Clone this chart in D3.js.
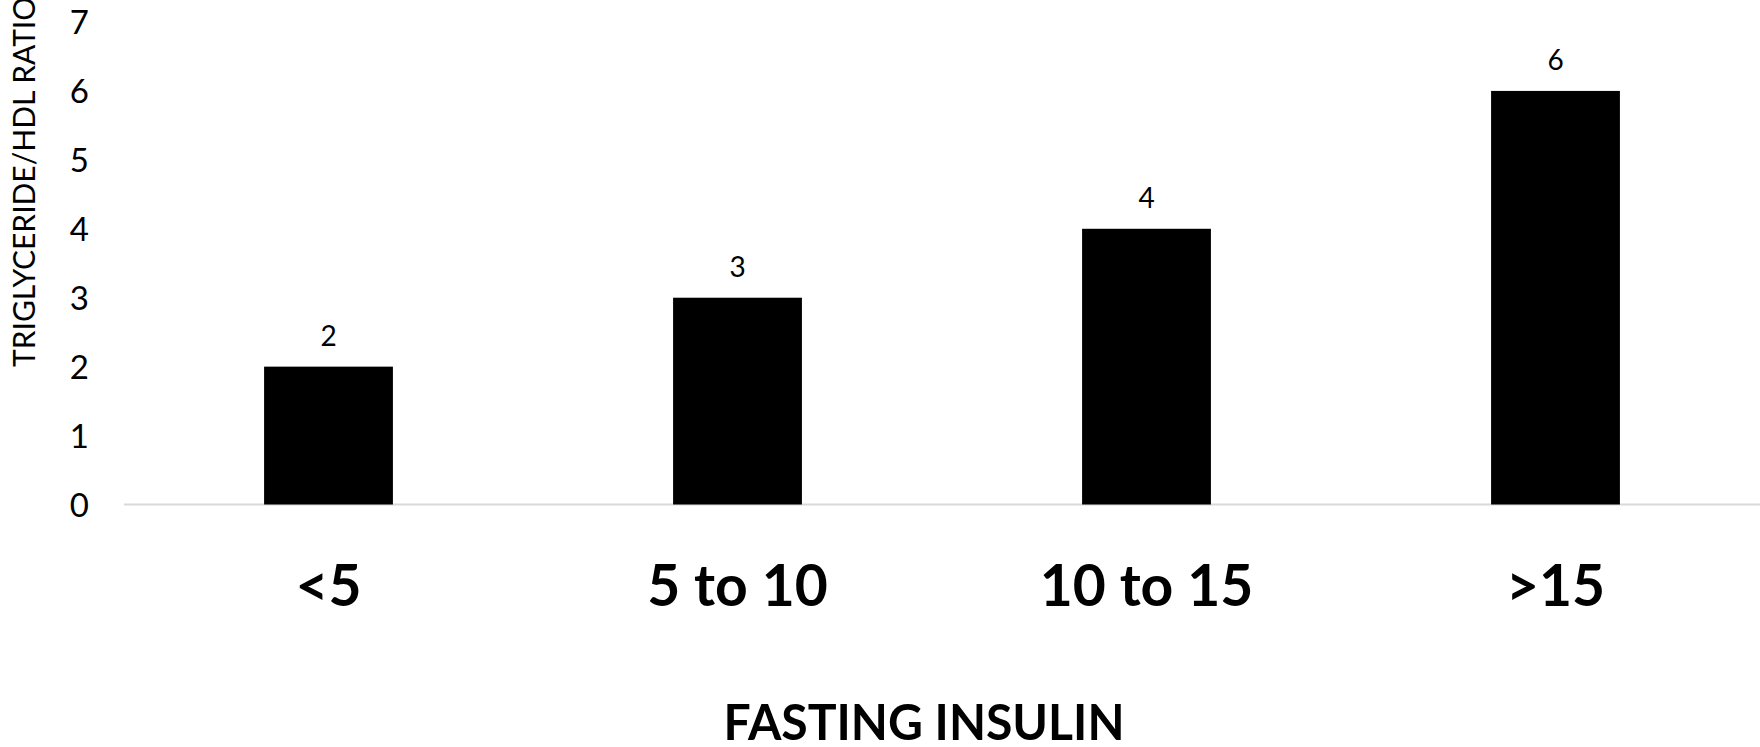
<!DOCTYPE html>
<html>
<head>
<meta charset="utf-8">
<script src="https://cdn.jsdelivr.net/npm/d3@7"></script>
<style>
  html, body { margin: 0; padding: 0; background: #fff; }
  svg { display: block; font-family: Lato, "Open Sans", sans-serif; }
</style>
</head>
<body>
<svg id="chart" width="1760" height="747"></svg>
<script>
const categories = ["<5", "5 to 10", "10 to 15", ">15"];
const values = [2, 3, 4, 6];
const yTicks = [0, 1, 2, 3, 4, 5, 6, 7];
const yTitle = "TRIGLYCERIDE/HDL RATIO";
const xTitle = "FASTING INSULIN";

const svg = d3.select("#chart");

const x = d3.scaleBand()
  .domain(categories)
  .range([124, 1760])
  .paddingInner(0.685)
  .paddingOuter(0.3425);

const y = d3.scaleLinear().domain([0, 7]).range([504.5, 22]);

// baseline
svg.append("line")
  .attr("x1", 124).attr("x2", 1760)
  .attr("y1", y(0)).attr("y2", y(0))
  .attr("stroke", "#d9d9d9").attr("stroke-width", 2);

// y tick labels via axis
const yAxis = d3.axisLeft(y).tickValues(yTicks).tickSize(0).tickPadding(0).tickFormat(d3.format("d"));
const gy = svg.append("g").attr("transform", "translate(89,0)").call(yAxis);
gy.select(".domain").remove();
gy.selectAll("text")
  .attr("font-family", "Lato, 'Open Sans', sans-serif")
  .attr("font-size", 33)
  .attr("fill", "#000")
  .attr("dy", "0.35em");

// bars
svg.append("g").selectAll("rect")
  .data(values)
  .join("rect")
  .attr("x", (d, i) => x(categories[i]))
  .attr("y", d => y(d))
  .attr("width", x.bandwidth())
  .attr("height", d => y(0) - y(d))
  .attr("fill", "#000");

// data labels
svg.append("g").selectAll("text")
  .data(values)
  .join("text")
  .attr("x", (d, i) => x(categories[i]) + x.bandwidth() / 2)
  .attr("y", d => y(d) - 21)
  .attr("text-anchor", "middle")
  .attr("font-size", 28)
  .attr("fill", "#000")
  .text(d => d);

// category labels
svg.append("g").selectAll("text")
  .data(categories)
  .join("text")
  .attr("x", d => x(d) + x.bandwidth() / 2)
  .attr("y", 606)
  .attr("text-anchor", "middle")
  .attr("font-size", 57)
  .attr("font-weight", "bold")
  .attr("fill", "#000")
  .text(d => d);

// x title
svg.append("text")
  .attr("x", 924)
  .attr("y", 740)
  .attr("text-anchor", "middle")
  .attr("font-size", 50)
  .attr("font-weight", "bold")
  .attr("fill", "#000")
  .attr("textLength", 401)
  .attr("lengthAdjust", "spacingAndGlyphs")
  .text(xTitle);

// y title
svg.append("text")
  .attr("transform", "translate(35,367) rotate(-90)")
  .attr("text-anchor", "start")
  .attr("font-size", 30)
  .attr("fill", "#000")
  .text(yTitle);
</script>
</body>
</html>
